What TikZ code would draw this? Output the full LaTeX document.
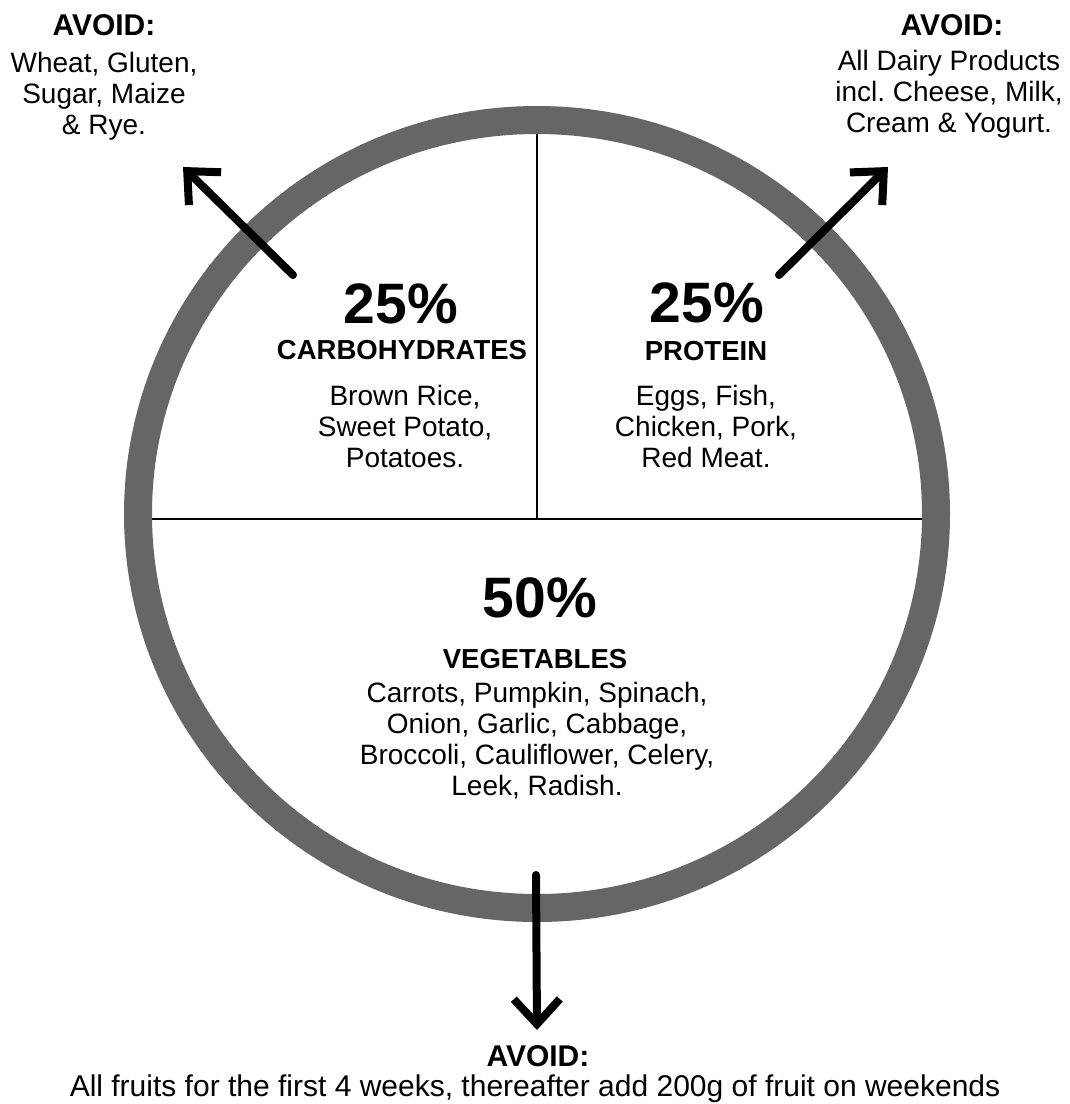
\documentclass[tikz,border=0pt]{standalone}
\usepackage{fontspec}
\setmainfont{Liberation Sans}
\usetikzlibrary{arrows.meta}
\definecolor{ringgray}{HTML}{666666}
\frenchspacing
\begin{document}
\begin{tikzpicture}[x=1pt,y=-1pt,
  body/.style={font=\fontsize{28}{31}\selectfont, align=center, inner sep=0pt, anchor=north},
  head/.style={font=\fontsize{30}{34}\selectfont\bfseries, inner sep=0pt, anchor=base},
  pct/.style={font=\fontsize{57}{60}\selectfont\bfseries, inner sep=0pt, anchor=base},
  cat/.style={font=\fontsize{27.5}{30}\selectfont\bfseries, inner sep=0pt, anchor=base},
  divider/.style={line width=1.6pt, draw=black},
  ring/.style={line width=28pt, draw=ringgray},
  avoidarrow/.style={line width=8pt, line cap=round, -{Straight Barb[length=25pt,width=46pt]}}
]
\fill[white] (0,0) rectangle (1070,1104);
\useasboundingbox (0,0) rectangle (1070,1104);

% dividers
\coordinate (top) at (537,130);
\coordinate (mid) at (537,519);
\coordinate (left) at (148,519);
\coordinate (right) at (926,519);
\draw[divider] (left) -- (right);
\draw[divider] (top) -- (mid);

% plate ring
\draw[ring] (537,514) ellipse [x radius=399, y radius=394];

% arrows
\coordinate (la0) at (293,275);
\coordinate (la1) at (183,167);
\coordinate (ra0) at (779,275);
\coordinate (ra1) at (888,167);
\coordinate (ba0) at (536,875);
\coordinate (ba1) at (537,1030);
\draw[avoidarrow] (la0) -- (la1);
\draw[avoidarrow] (ra0) -- (ra1);
\draw[avoidarrow] (ba0) -- (ba1);

% top-left avoid
\node[head] (tlh) at (104,35) {AVOID:};
\node[body] (tlb) at (104,52) {Wheat, Gluten,\\Sugar, Maize\\\& Rye.};

% top-right avoid
\node[head] (trh) at (952,35) {AVOID:};
\node[body] (trb) at (949,50) {All Dairy Products\\incl. Cheese, Milk,\\Cream \& Yogurt.};

% carbohydrates
\node[pct] (cp) at (401,323) {25\%};
\node[cat] (ch) at (402,359) {CARBOHYDRATES};
\node[body] (cb) at (405,385) {Brown Rice,\\Sweet Potato,\\Potatoes.};

% protein
\node[pct] (pp) at (707,322) {25\%};
\node[cat] (ph) at (706,360) {PROTEIN};
\node[body] (pb) at (706,385) {Eggs, Fish,\\Chicken, Pork,\\Red Meat.};

% vegetables
\node[pct] (vp) at (540,617) {50\%};
\node[cat] (vh) at (535,668) {VEGETABLES};
\node[body] (vb) at (537,682) {Carrots, Pumpkin, Spinach,\\Onion, Garlic, Cabbage,\\Broccoli, Cauliflower, Celery,\\Leek, Radish.};

% bottom avoid
\node[head] (bh) at (538,1066) {AVOID:};
\node[font=\fontsize{30}{34}\selectfont, inner sep=0pt, anchor=base] (bb) at (535,1096) {All fruits for the first 4 weeks, thereafter add 200g of fruit on weekends};
\end{tikzpicture}
\end{document}
